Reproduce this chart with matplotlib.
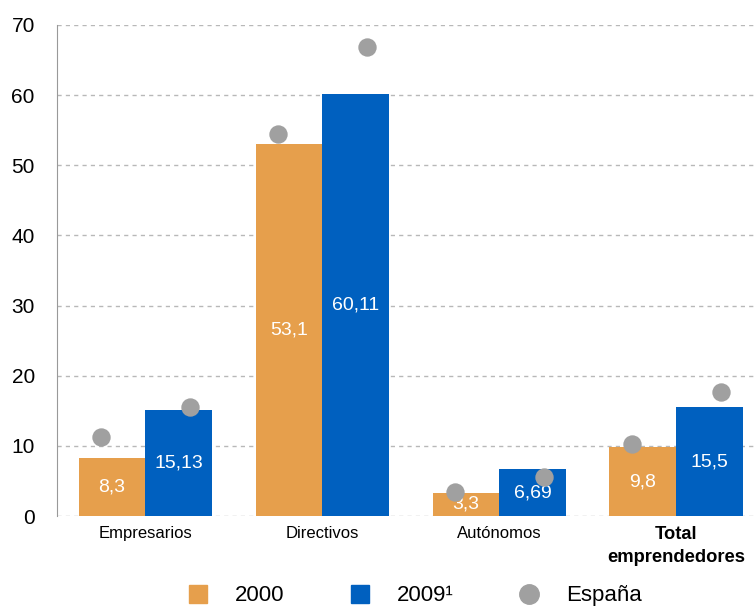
import numpy as np
import matplotlib.pyplot as plt
from matplotlib.lines import Line2D

plt.rcParams["font.family"] = ["Liberation Sans", "DejaVu Sans"]

# data
categories = ["Empresarios", "Directivos", "Autónomos", "Total\nemprendedores"]
values_2000 = [8.3, 53.1, 3.3, 9.8]
values_2009 = [15.13, 60.11, 6.69, 15.5]
labels_2000 = ["8,3", "53,1", "3,3", "9,8"]
labels_2009 = ["15,13", "60,11", "6,69", "15,5"]
espana_2000 = [11.3, 54.5, 3.4, 10.3]
espana_2009 = [15.6, 66.8, 5.6, 17.7]

orange = "#E69F4C"
blue = "#0060BF"
grey = "#A0A0A0"

x = np.arange(len(categories))
w = 0.378

fig = plt.figure(figsize=(7.56, 6.08), dpi=100)
ax = fig.add_axes([57 / 756, 92 / 608, 699 / 756, 491 / 608])

bars_a = ax.bar(x - w / 2, values_2000, w, color=orange, zorder=2)
bars_b = ax.bar(x + w / 2, values_2009, w, color=blue, zorder=2)

for bar, lab in zip(bars_a, labels_2000):
    ax.text(bar.get_x() + bar.get_width() / 2, bar.get_height() / 2, lab,
            ha="center", va="center", color="white", fontsize=14, zorder=3)
for bar, lab in zip(bars_b, labels_2009):
    ax.text(bar.get_x() + bar.get_width() / 2, bar.get_height() / 2, lab,
            ha="center", va="center", color="white", fontsize=14, zorder=3)

# Spain reference dots
ax.scatter(x - 0.25, espana_2000, s=175, color=grey, zorder=4, linewidths=0)
ax.scatter(x + 0.25, espana_2009, s=175, color=grey, zorder=4, linewidths=0)

ax.set_xlim(-0.5, 3.45)
ax.set_ylim(0, 70)
ax.set_yticks(range(0, 71, 10))
ax.yaxis.grid(True, color="#B8B8B8", linestyle=(0, (3, 3)), linewidth=1, zorder=0)
ax.set_axisbelow(True)
ax.tick_params(axis="y", length=0, labelsize=15, pad=16)
ax.tick_params(axis="x", length=0, labelsize=12, pad=7)
ax.set_xticks(x)
ax.set_xticklabels(categories)
tot = ax.get_xticklabels()[3]
tot.set_fontweight("bold")
tot.set_fontsize(13.2)
tot.set_linespacing(1.5)
for s in ["top", "right", "bottom"]:
    ax.spines[s].set_visible(False)
ax.spines["left"].set_color("#999999")

handles = [
    Line2D([], [], marker="s", linestyle="", markersize=13, color=orange),
    Line2D([], [], marker="s", linestyle="", markersize=13, color=blue),
    Line2D([], [], marker="o", linestyle="", markersize=14, color=grey),
]
fig.legend(handles, ["2000", "2009¹", "España"], loc="center", ncol=3,
           bbox_to_anchor=(0.548, 0.02), frameon=False, fontsize=16,
           columnspacing=2.9, handletextpad=1.15, handlelength=1.0,
           borderpad=0.0)

fig.savefig("out.png", dpi=100)
